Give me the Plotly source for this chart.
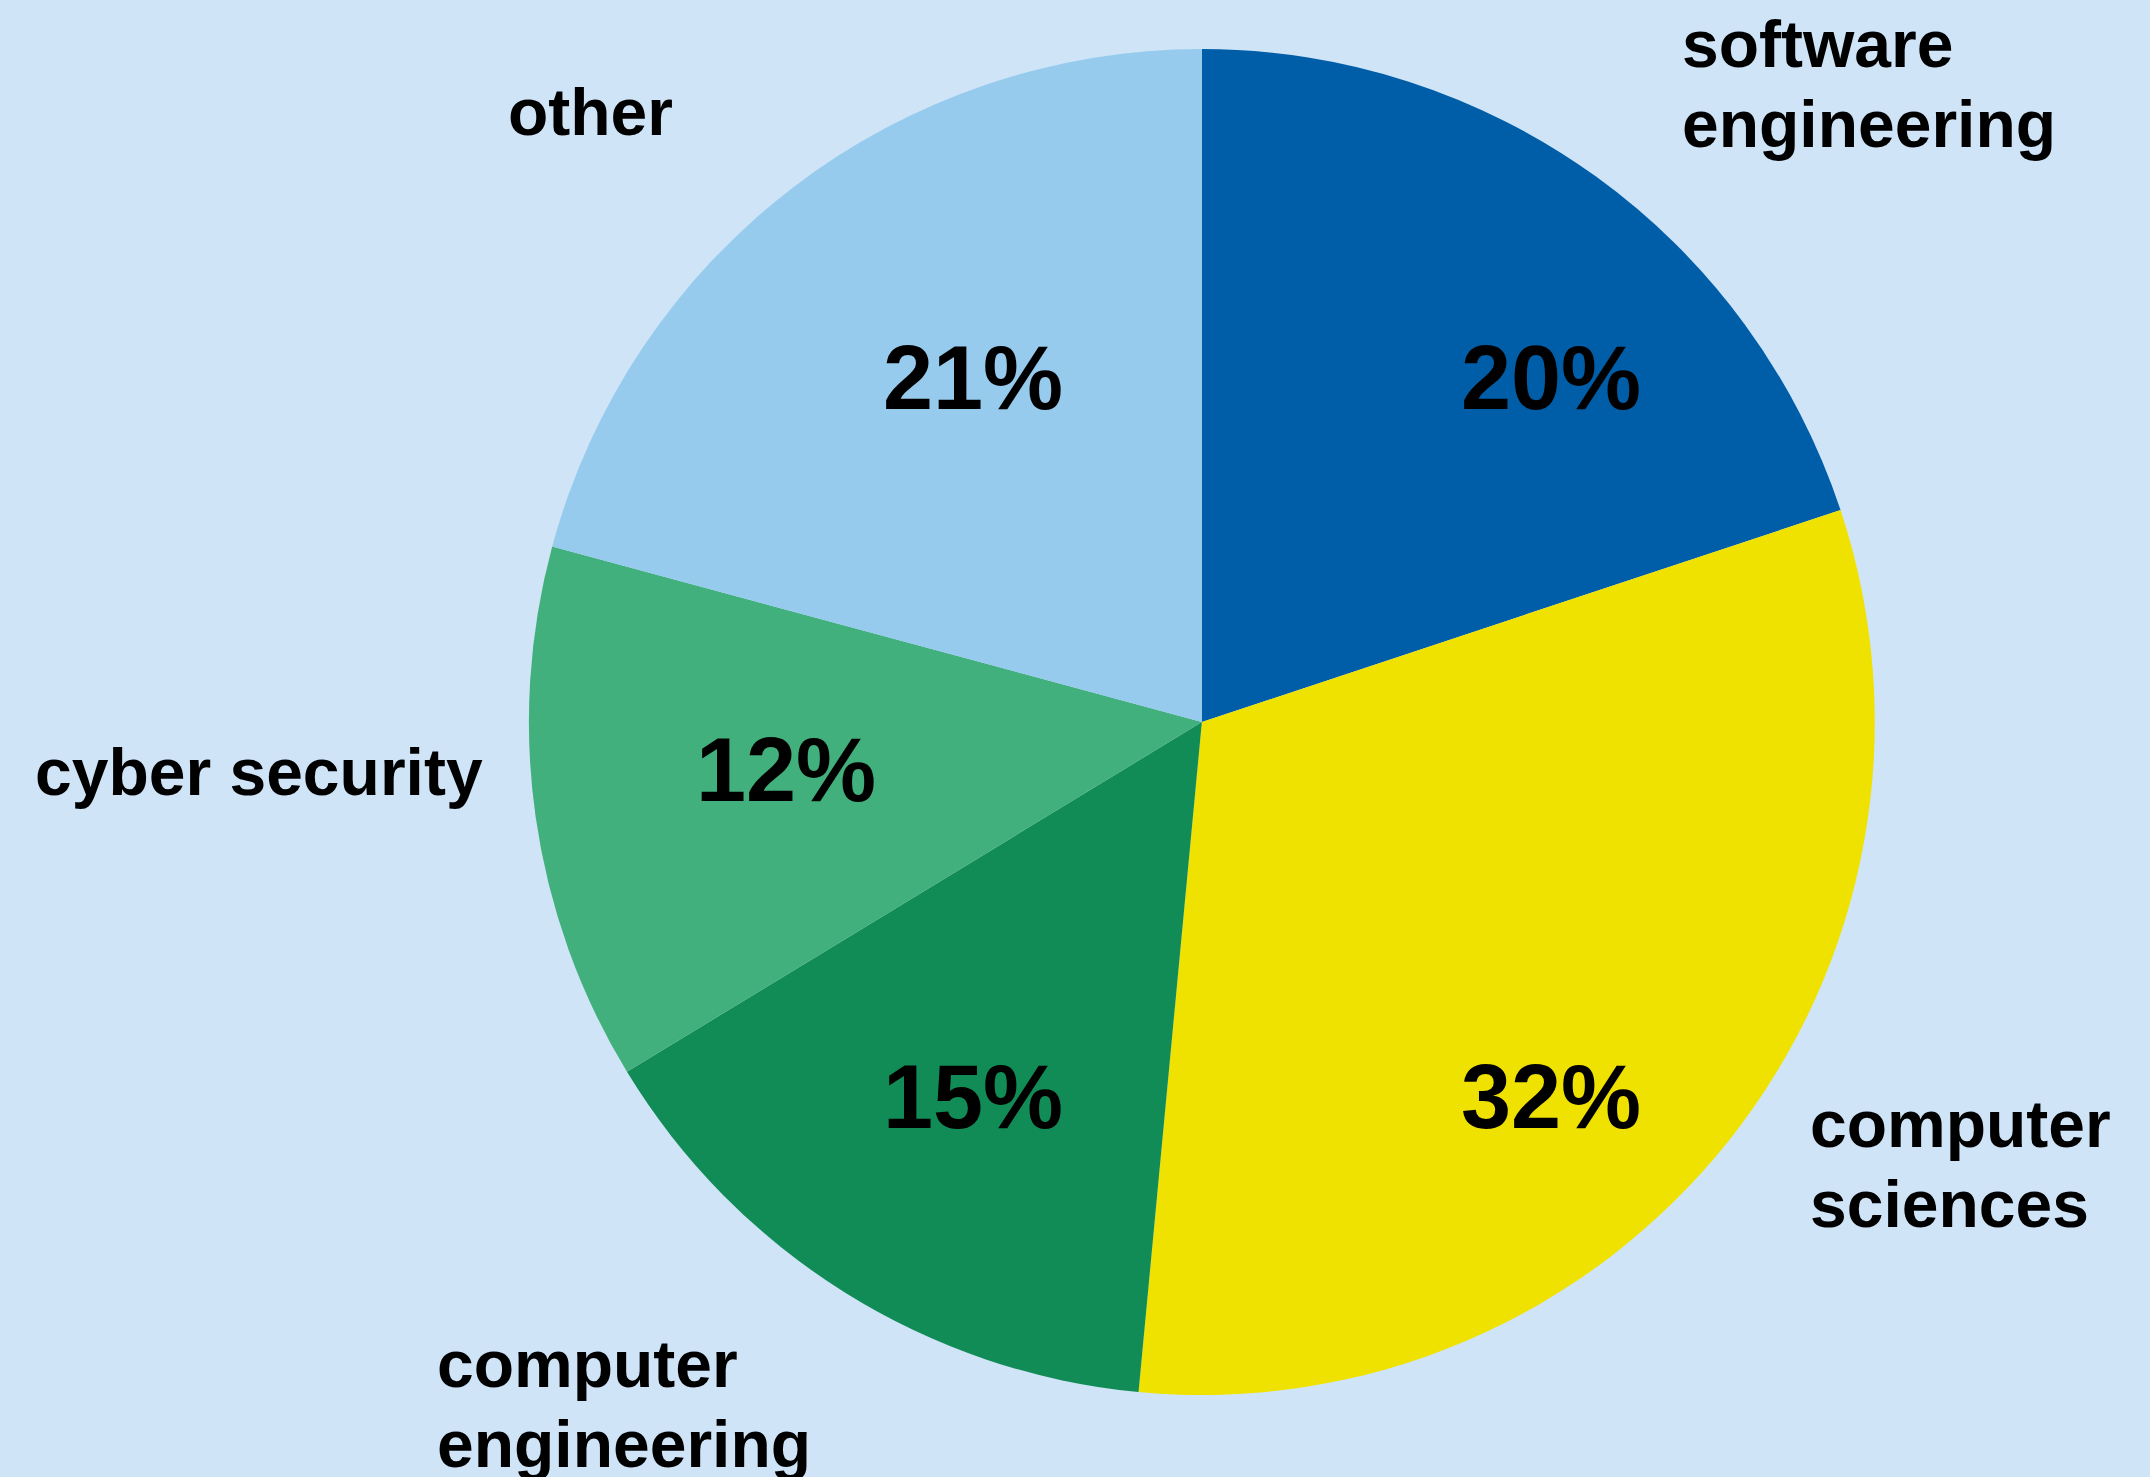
import plotly.graph_objects as go

categories = ["software engineering", "computer sciences", "computer engineering", "cyber security", "other"]
label_lines = [["software", "engineering"], ["computer", "sciences"], ["computer", "engineering"], ["cyber security"], ["other"]]
values = [19.9, 31.6, 14.8, 12.9, 20.8]
pct_labels = ["20%", "32%", "15%", "12%", "21%"]
colors = ["#005ea8", "#efe200", "#118c56", "#42b07c", "#96cbed"]

W, H = 2150, 1477
FONT = "Liberation Sans, Arial, Helvetica, sans-serif"
LINE_GAP = 80  # px between label lines

fig = go.Figure(go.Pie(
    labels=categories,
    values=values,
    sort=False,
    direction="clockwise",
    rotation=0,
    marker=dict(colors=colors, line=dict(width=0)),
    textinfo="none",
    hoverinfo="label+percent",
    showlegend=False,
    domain=dict(x=[0.246, 0.872], y=[0.0555, 0.9668]),
))

# outside category labels: left edge and first-line centre, px from top-left
label_pos = {
    "software engineering": (1680, 44),
    "computer sciences": (1808, 1124),
    "computer engineering": (435, 1364),
    "cyber security": (33, 772),
    "other": (506, 112),
}
# inside percentage labels: centre, px from top-left
pct_pos = {
    "software engineering": (1551, 378),
    "computer sciences": (1551, 1097),
    "computer engineering": (973, 1097),
    "cyber security": (786, 770),
    "other": (973, 378),
}
for cat, lines, pct in zip(categories, label_lines, pct_labels):
    px, py = label_pos[cat]
    for i, line in enumerate(lines):
        fig.add_annotation(
            x=px / W, y=1 - (py + i * LINE_GAP) / H, xref="paper", yref="paper",
            text=f"<b>{line}</b>", showarrow=False,
            xanchor="left", yanchor="middle", align="left",
            font=dict(family=FONT, size=66, color="#000000"),
        )
    qx, qy = pct_pos[cat]
    fig.add_annotation(
        x=qx / W, y=1 - qy / H, xref="paper", yref="paper",
        text=f"<b>{pct}</b>", showarrow=False,
        xanchor="center", yanchor="middle",
        font=dict(family=FONT, size=90, color="#000000"),
    )

fig.update_layout(
    width=W, height=H,
    margin=dict(l=0, r=0, t=0, b=0),
    paper_bgcolor="#cfe4f7",
    plot_bgcolor="#cfe4f7",
)

fig.write_html(
    "out.html",
    config={"displayModeBar": False},
    post_script="document.body.style.margin='0';document.body.style.overflow='hidden';",
)
